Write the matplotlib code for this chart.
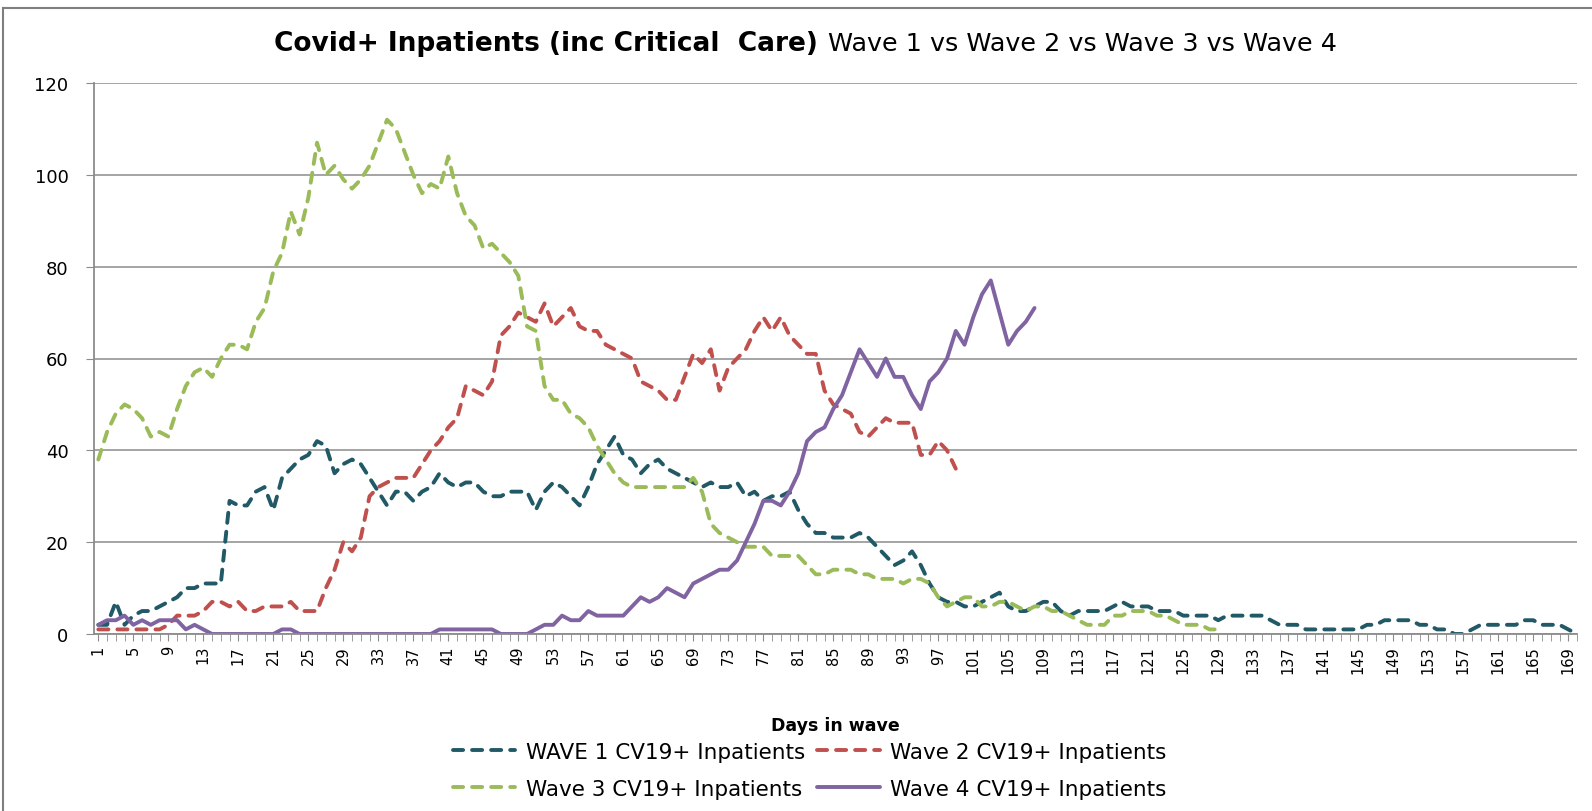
import matplotlib
matplotlib.use("Agg")
import matplotlib.pyplot as plt
from matplotlib.lines import Line2D
import numpy as np

# ---------------- data ----------------
wave1 = [2, 2, 7, 2, 4, 5, 5, 6, 7, 8,
         10, 10, 11, 11, 11, 29, 28, 28, 31, 32,
         27, 34, 36, 38, 39, 42, 41, 35, 37, 38,
         37, 34, 31, 28, 31, 31, 29, 31, 32, 35,
         33, 32, 33, 33, 31, 30, 30, 31, 31, 31,
         27, 31, 33, 32, 30, 28, 32, 37, 40, 43,
         39, 38, 35, 37, 38, 36, 35, 34, 33, 32,
         33, 32, 32, 33, 30, 31, 29, 30, 30, 31,
         27, 24, 22, 22, 21, 21, 21, 22, 21, 19,
         17, 15, 16, 18, 15, 11, 8, 7, 7, 6,
         6, 7, 8, 9, 6, 5, 5, 6, 7, 7,
         5, 4, 5, 5, 5, 5, 6, 7, 6, 6,
         6, 5, 5, 5, 4, 4, 4, 4, 3, 4,
         4, 4, 4, 4, 3, 2, 2, 2, 1, 1,
         1, 1, 1, 1, 1, 2, 2, 3, 3, 3,
         3, 2, 2, 1, 1, 0, 0, 1, 2, 2,
         2, 2, 2, 3, 3, 2, 2, 2, 1, 0]

wave2 = [1, 1, 1, 1, 1, 1, 1, 1, 2, 4,
         4, 4, 5, 7, 7, 6, 7, 5, 5, 6,
         6, 6, 7, 5, 5, 5, 10, 14, 20, 18,
         21, 30, 32, 33, 34, 34, 34, 37, 40, 42,
         45, 47, 54, 53, 52, 55, 65, 67, 70, 69,
         68, 72, 67, 69, 71, 67, 66, 66, 63, 62,
         61, 60, 55, 54, 53, 51, 51, 56, 61, 59,
         62, 53, 58, 60, 62, 66, 69, 66, 69, 65,
         63, 61, 61, 53, 50, 49, 48, 44, 43, 45,
         47, 46, 46, 46, 39, 39, 42, 40, 36]

wave3 = [38, 44, 48, 50, 49, 47, 43, 44, 43, 49,
         54, 57, 58, 56, 60, 63, 63, 62, 68, 71,
         79, 83, 92, 87, 95, 107, 100, 102, 99, 97,
         99, 102, 107, 112, 110, 105, 100, 96, 98, 97,
         104, 96, 91, 89, 84, 85, 83, 81, 78, 67,
         66, 54, 51, 51, 48, 47, 45, 41, 38, 35,
         33, 32, 32, 32, 32, 32, 32, 32, 34, 31,
         24, 22, 21, 20, 19, 19, 19, 17, 17, 17,
         17, 15, 13, 13, 14, 14, 14, 13, 13, 12,
         12, 12, 11, 12, 12, 11, 8, 6, 7, 8,
         8, 6, 6, 7, 7, 6, 5, 6, 6, 5,
         5, 4, 3, 2, 2, 2, 4, 4, 5, 5,
         5, 4, 4, 3, 2, 2, 2, 1, 1]

wave4 = [2, 3, 3, 4, 2, 3, 2, 3, 3, 3,
         1, 2, 1, 0, 0, 0, 0, 0, 0, 0,
         0, 1, 1, 0, 0, 0, 0, 0, 0, 0,
         0, 0, 0, 0, 0, 0, 0, 0, 0, 1,
         1, 1, 1, 1, 1, 1, 0, 0, 0, 0,
         1, 2, 2, 4, 3, 3, 5, 4, 4, 4,
         4, 6, 8, 7, 8, 10, 9, 8, 11, 12,
         13, 14, 14, 16, 20, 24, 29, 29, 28, 31,
         35, 42, 44, 45, 49, 52, 57, 62, 59, 56,
         60, 56, 56, 52, 49, 55, 57, 60, 66, 63,
         69, 74, 77, 70, 63, 66, 68, 71]

labels = ["WAVE 1 CV19+ Inpatients", "Wave 2 CV19+ Inpatients",
          "Wave 3 CV19+ Inpatients", "Wave 4 CV19+ Inpatients"]
colors = ["#215967", "#C0504D", "#9BBB59", "#8064A2"]
n_days = 170

# ---------------- figure ----------------
W, H = 1592, 812
def fx(px):
    return px / W
def fy(py):
    return 1 - py / H

grey = "#8c8c8c"

fig = plt.figure(figsize=(W / 100, H / 100), dpi=100)
ax = fig.add_axes([fx(93.5), fy(635), fx(1577 - 93.5), (635 - 84) / H])

lines = []
for i, w in enumerate([wave1, wave2, wave3, wave4]):
    x = np.arange(1, len(w) + 1)
    if i < 3:
        l, = ax.plot(x, w, color=colors[i], lw=2.8, dashes=(2.6, 2.3),
                     dash_capstyle="round", label=labels[i])
    else:
        l, = ax.plot(x, w, color=colors[i], lw=2.8, solid_capstyle="round",
                     label=labels[i])
    lines.append(l)

ax.set_xlim(0.45, n_days)
ax.set_ylim(0, 120)
ax.set_yticks(range(0, 121, 20))
ax.set_xticks(range(1, n_days, 4))
ax.set_xticks(range(1, n_days + 1), minor=True)
ax.grid(axis="y", color=grey, lw=1.1)
ax.set_axisbelow(True)
for s in ["top", "right"]:
    ax.spines[s].set_visible(False)
for s in ["left", "bottom"]:
    ax.spines[s].set_color(grey)
    ax.spines[s].set_linewidth(1.3)
ax.tick_params(axis="y", length=6, color=grey, labelsize=13, pad=12)
ax.tick_params(axis="x", which="both", length=5, color=grey, labelsize=10.5,
               labelrotation=90, pad=3)
ax.set_xlabel("Days in wave", fontsize=12.5, fontweight="bold", labelpad=31)

# title, bold part + normal part
fig.text(fx(818), fy(44), "Covid+ Inpatients (inc Critical  Care)", ha="right",
         va="center", fontsize=19, fontweight="bold")
fig.text(fx(828), fy(44), "Wave 1 vs Wave 2 vs Wave 3 vs Wave 4", ha="left",
         va="center", fontsize=18.3)

# legend: rows W1 W2 / W3 W4
leg = ax.legend([lines[0], lines[2], lines[1], lines[3]],
                [labels[0], labels[2], labels[1], labels[3]],
                loc="upper left", bbox_to_anchor=(fx(453), fy(743)),
                bbox_transform=fig.transFigure, ncol=2, frameon=False,
                fontsize=15.5, handlelength=2.9, handletextpad=0.5,
                columnspacing=0.55, labelspacing=0.78, borderaxespad=0,
                borderpad=0)

# chart border (top and left visible)
fig.add_artist(Line2D([fx(3), 1], [fy(9), fy(9)], color="#7f7f7f", lw=1.5))
fig.add_artist(Line2D([fx(3), fx(3)], [fy(9), 0], color="#7f7f7f", lw=1.5))

fig.savefig("out.png", dpi=100)
